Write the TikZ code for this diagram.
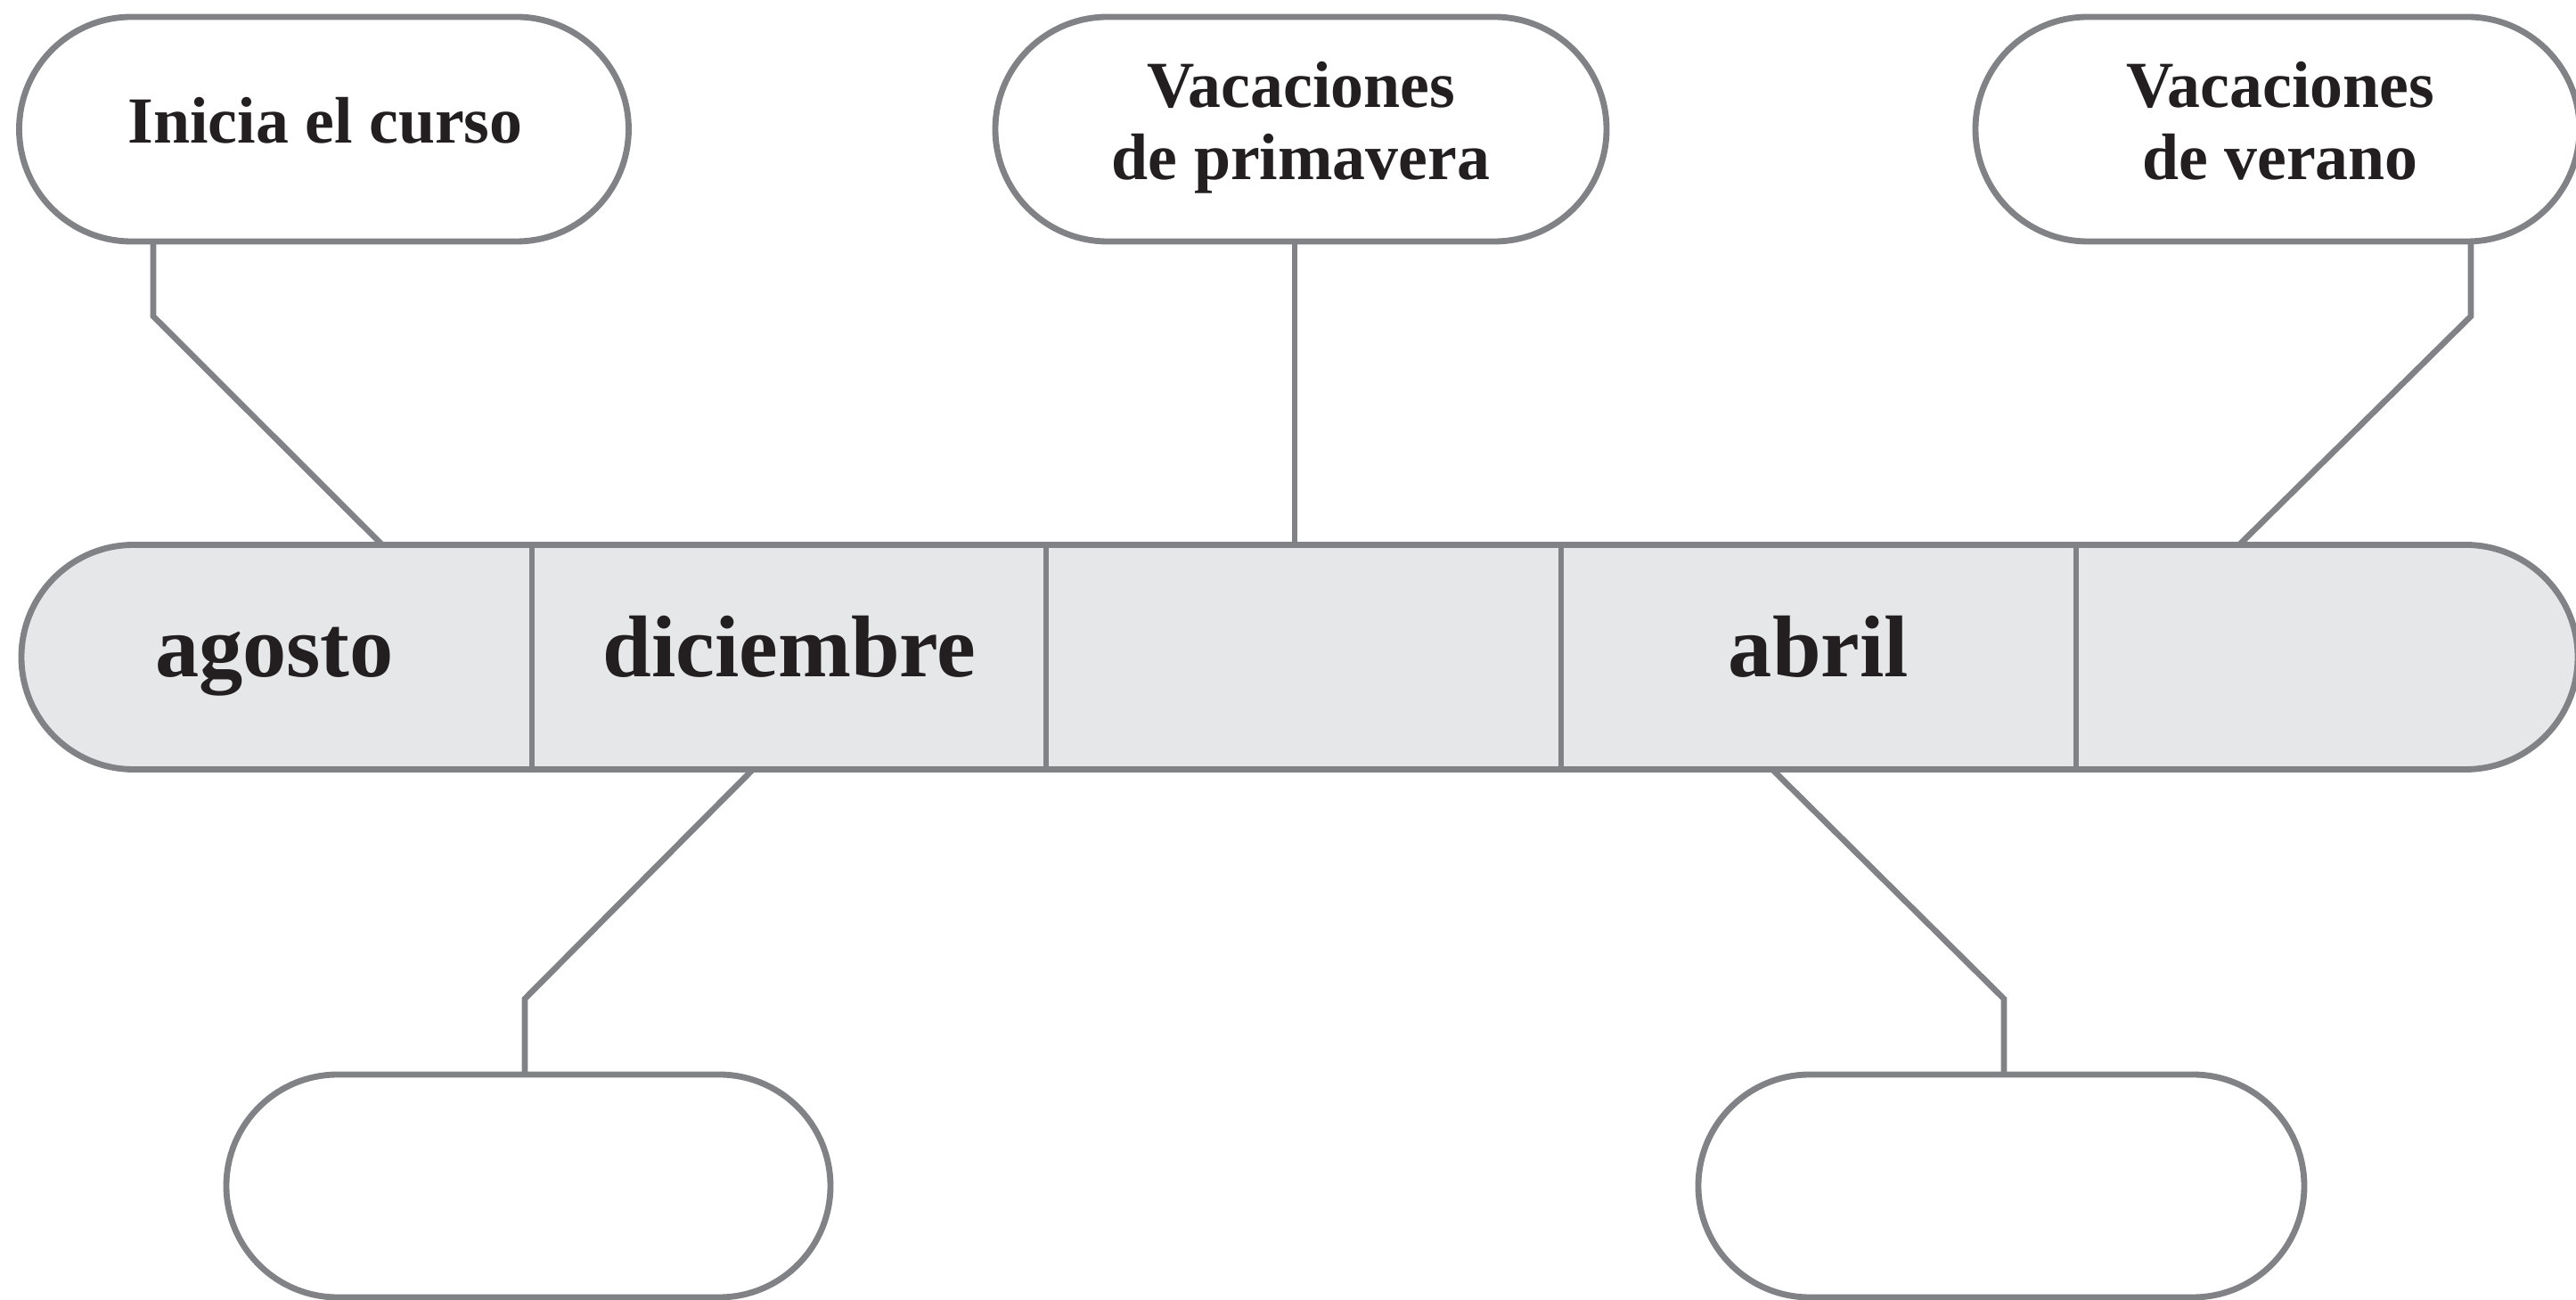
\documentclass[tikz,border=0pt]{standalone}
\usepackage{fontspec}
\setmainfont{Liberation Serif}
\definecolor{lineg}{RGB}{128,130,133}
\definecolor{barfill}{RGB}{230,231,232}
\definecolor{ink}{RGB}{35,31,32}
\begin{document}
\begin{tikzpicture}[x=1cm,y=1cm,
  pill/.style={draw=lineg, line width=1.95pt, fill=white, rounded corners=1.26cm, minimum height=2.52cm, inner sep=0pt, outer sep=0pt},
  conn/.style={draw=lineg, line width=1.9pt, line join=miter},
  lbl/.style={text=ink, font=\fontsize{21}{23}\selectfont\bfseries, anchor=base, inner sep=0pt},
  month/.style={text=ink, font=\fontsize{28}{32}\selectfont\bfseries, anchor=base, inner sep=0pt}]
\useasboundingbox (0,0) rectangle (28.91,-14.59);
% bends
\coordinate (k1) at (1.72,-3.55);
\coordinate (k3) at (27.73,-3.55);
\coordinate (k4) at (5.89,-11.21);
\coordinate (k5) at (22.49,-11.21);
\coordinate (t1) at (4.29,-6.115);
\coordinate (t2) at (14.53,-6.115);
\coordinate (t3) at (25.13,-6.115);
\coordinate (u4) at (8.45,-8.635);
\coordinate (u5) at (19.89,-8.635);
% boxes
\node[pill, minimum width=6.84cm] (b1) at (3.635,-1.45) {};
\node[pill, minimum width=6.86cm] (b2) at (14.60,-1.45) {};
\node[pill, minimum width=6.78cm] (b3) at (25.56,-1.45) {};
\node[pill, minimum width=6.78cm, minimum height=2.50cm, rounded corners=1.25cm] (b4) at (5.93,-13.31) {};
\node[pill, minimum width=6.80cm, minimum height=2.50cm, rounded corners=1.25cm] (b5) at (22.46,-13.31) {};
% connectors
\draw[conn] (b1.south -| k1) -- (k1) -- (t1);
\draw[conn] (b2.south -| t2) -- (t2);
\draw[conn] (b3.south -| k3) -- (k3) -- (t3);
\draw[conn] (u4) -- (k4) -- (b4.north -| k4);
\draw[conn] (u5) -- (k5) -- (b5.north -| k5);
% timeline bar
\node[pill, fill=barfill, minimum width=28.69cm] (bar) at (14.585,-7.375) {};
\foreach \x in {5.97,11.74,17.52,23.30}{
  \draw[draw=lineg, line width=1.95pt] (bar.north -| \x,0) -- (bar.south -| \x,0);
}
% texts
\node[lbl] (l1) at (3.65,-1.61) {Inicia el curso};
\node[lbl] (l2) at (14.60,-1.21) {\begin{tabular}[t]{@{}c@{}}Vacaciones\\de primavera\end{tabular}};
\node[lbl] (l3) at (25.59,-1.205) {\begin{tabular}[t]{@{}c@{}}Vacaciones\\de verano\end{tabular}};
\node[month] (m1) at (3.08,-7.60) {agosto};
\node[month] (m2) at (8.86,-7.60) {diciembre};
\node[month] (m3) at (20.41,-7.60) {abril};
\end{tikzpicture}
\end{document}
